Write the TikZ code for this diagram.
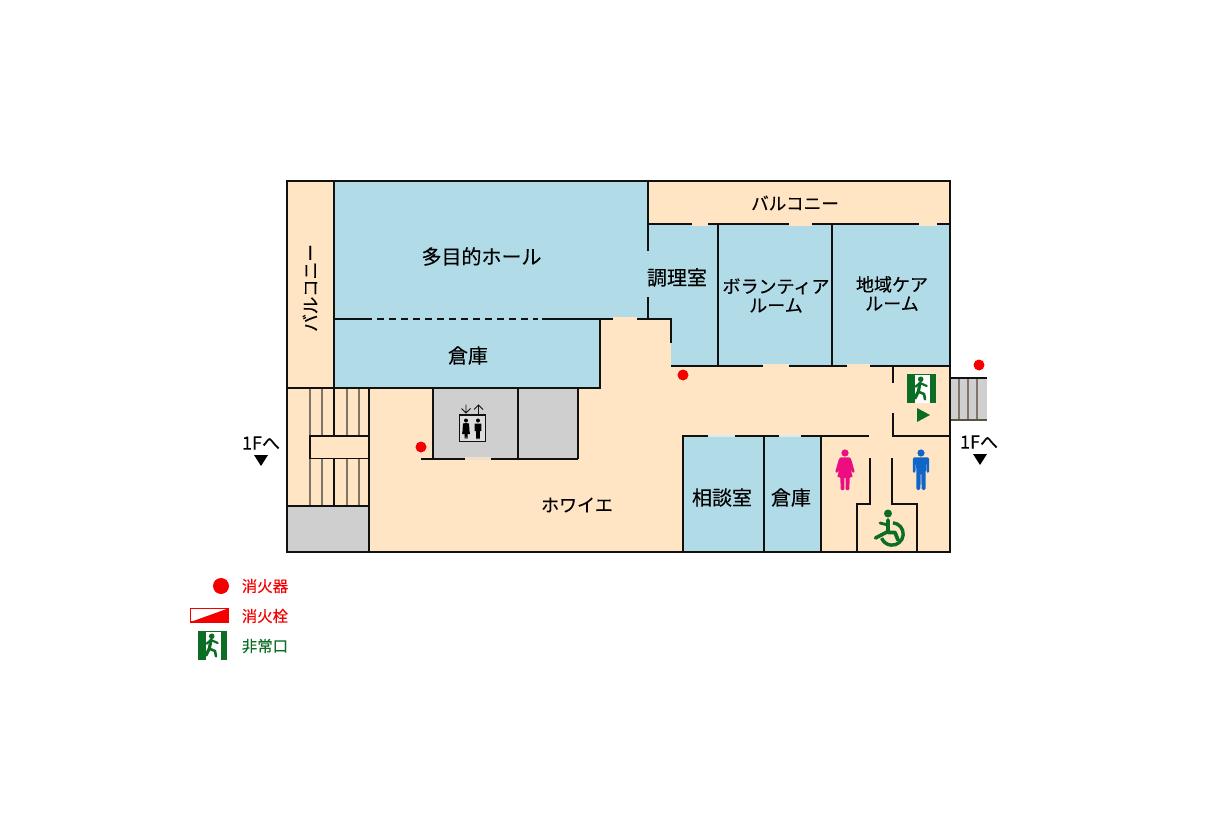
\documentclass[tikz,border=0pt]{standalone}
\usepackage{fontspec}
\setmainfont[FakeBold=0.25]{Noto Sans CJK JP}
\definecolor{peach}{HTML}{FFE5C4}
\definecolor{roomblue}{HTML}{B1DBE7}
\definecolor{floorgray}{HTML}{CFCFCF}
\definecolor{exitgreen}{HTML}{0B6E24}
\definecolor{wcpink}{HTML}{EC0E80}
\definecolor{wcblue}{HTML}{0F66C8}
\definecolor{firered}{HTML}{F40000}
\definecolor{wall}{HTML}{111111}
\definecolor{stepline}{HTML}{7F7566}
\tikzset{
  wallline/.style={draw=wall,line width=1.9pt},
  thinwall/.style={draw=wall,line width=1.6pt},
  stepsline/.style={draw=stepline,line width=1.2pt},
  roomlabel/.style={inner sep=0pt,font=\fontsize{18}{19}\selectfont,text=black},
  biglabel/.style={inner sep=0pt,font=\fontsize{20}{22}\selectfont,text=black},
  legendlabel/.style={inner sep=0pt,font=\fontsize{15.4}{17}\selectfont},
  firedot/.style={fill=firered,draw=none},
  exiticon/.pic={
    \fill[white] (0,0) rectangle (29,29);
    \fill[exitgreen] (0,0) rectangle (8,29);
    \fill[exitgreen] (22.5,0) rectangle (29,29);
    \fill[exitgreen] (8,0) rectangle (22.5,1);
    \fill[exitgreen] (13.7,5.3) circle (2.8);
    \draw[exitgreen,line width=2.2pt,line cap=round,line join=round]
      (8.5,12.7) -- (13,9) -- (19.7,12);
    \draw[exitgreen,line width=3.2pt,line cap=round,line join=round]
      (13,9) -- (11.3,17.7) -- (8,24.3);
    \draw[exitgreen,line width=2.6pt,line cap=round,line join=round]
      (11.3,17.7) -- (17,20) -- (18,25.3);
  },
  manicon/.pic={
    \fill (0,-17) circle (3.6);
    \fill[rounded corners=1.5pt] (-8.2,-12.7) -- (8.2,-12.7) -- (8.2,3) -- (5.6,3) -- (5.2,-7) -- (4.8,-7) -- (4.6,20) -- (0.6,20) -- (0.3,3) -- (-0.3,3) -- (-0.6,20) -- (-4.6,20) -- (-4.8,-7) -- (-5.2,-7) -- (-5.6,3) -- (-8.2,3) -- cycle;
  },
  womanicon/.pic={
    \fill (0,-17) circle (3.6);
    \fill[rounded corners=1pt] (-5,-12.7) -- (5,-12.7) -- (6.4,-10) -- (9.8,2) -- (7.4,3) -- (5,-3) -- (7.8,7.2) -- (4.6,7.2) -- (4.4,20) -- (0.7,20) -- (0.5,7.2) -- (-0.5,7.2) -- (-0.7,20) -- (-4.4,20) -- (-4.6,7.2) -- (-7.8,7.2) -- (-5,-3) -- (-7.4,3) -- (-9.8,2) -- (-6.4,-10) -- cycle;
  }
}
\begin{document}
\begin{tikzpicture}[x=1pt,y=-1pt]
\useasboundingbox (0,0) rectangle (1216,840);
% floor
\fill[peach] (287,181) rectangle (950,552);
% blue rooms
\fill[roomblue] (334,181) -- (648,181) -- (648,224) -- (950,224) -- (950,366) -- (671,366) -- (671,319) -- (600,319) -- (600,388) -- (334,388) -- cycle;
\fill[roomblue] (683,436) rectangle (821,552);
% gray rooms
\fill[floorgray] (433,388) rectangle (578,459);
\fill[floorgray] (287,506) rectangle (369,552);
\fill[floorgray] (950,378) rectangle (987,420);
% door gaps
\fill[peach] (692,224) rectangle (708,226);
\fill[peach] (789,224) rectangle (812,226);
\fill[peach] (919,224) rectangle (937,226);
\fill[peach] (763,364) rectangle (789,366);
\fill[peach] (847,364) rectangle (870,366);
\fill[peach] (613,317) rectangle (637,320);
\fill[roomblue!50!white] (708,435) rectangle (735,437);
\fill[roomblue!50!white] (779,435) rectangle (801,437);
\fill[peach!70!floorgray] (465,457) rectangle (491,460);
% left stairs
\foreach \sx in {310,322,347,359}{
  \draw[stepsline] (\sx,388) -- (\sx,436);
  \draw[stepsline] (\sx,459) -- (\sx,506);
}
\draw[thinwall,line width=1.1pt] (334,388) -- (334,436);
\draw[thinwall,line width=1.1pt] (334,459) -- (334,506);
\draw[wallline] (310,436) rectangle (369,458.5);
\draw[wallline] (287,506) -- (369,506);
% right stairs
\foreach \sx in {959,968,977}{\draw[stepsline] (\sx,378) -- (\sx,420);}
\draw[wallline] (950,378) -- (987,378);
\draw[thinwall,line width=1.4pt,draw=stepline!70!black] (950,420) -- (987,420);
% outer and long walls
\draw[wallline] (287,181) rectangle (950,552);
\draw[wallline] (334,181) -- (334,388);
\draw[wallline] (287,388) -- (600,388) -- (600,319);
\draw[wallline] (369,388) -- (369,552);
% hall
\draw[wallline] (648,181) -- (648,251);
\draw[wallline] (648,297) -- (648,319);
\draw[wallline] (334,319) -- (372,319);
\draw[wallline,dash pattern=on 7pt off 5pt] (377,319) -- (538,319);
\draw[wallline] (542,319) -- (613,319);
\draw[wallline] (637,319) -- (671,319) -- (671,343);
% north corridor wall
\draw[wallline] (648,224) -- (692,224);
\draw[wallline] (708,224) -- (789,224);
\draw[wallline] (812,224) -- (919,224);
\draw[wallline] (937,224) -- (950,224);
\draw[wallline] (718,224) -- (718,366);
\draw[wallline] (832,224) -- (832,366);
\draw[wallline] (671,366) -- (763,366);
\draw[wallline] (789,366) -- (847,366);
\draw[wallline] (870,366) -- (950,366);
% exit vestibule
\draw[wallline] (893,366) -- (893,383);
\draw[wallline] (893,413) -- (893,436) -- (950,436);
% south rooms
\draw[wallline] (708,436) -- (683,436) -- (683,552);
\draw[wallline] (735,436) -- (779,436);
\draw[wallline] (801,436) -- (869,436);
\draw[wallline] (764,436) -- (764,552);
\draw[wallline] (821,436) -- (821,552);
% toilets
\draw[wallline] (870,458) -- (870,504) -- (857,504) -- (857,552);
\draw[wallline] (892,458) -- (892,504) -- (917,504) -- (917,552);
% elevators
\draw[wallline] (433,388) -- (433,459);
\draw[wallline] (518,388) -- (518,459);
\draw[wallline] (578,388) -- (578,459);
\draw[wallline] (421,459) -- (465,459);
\draw[wallline] (491,459) -- (578,459);
% elevator icon
\draw[fill=floorgray!70!white,draw=wall,line width=1.2pt] (459.5,415) rectangle (485.5,441.5);
\fill[black] (466,420.5) circle (2);
\fill[black] (466,423) -- (469,423.5) -- (469.5,431) -- (470,434) -- (467.5,434) -- (467.5,438.5) -- (466.5,438.5) -- (466,435) -- (465.5,438.5) -- (464.5,438.5) -- (464.5,434) -- (462,434) -- (462.5,431) -- (463,423.5) -- cycle;
\fill[black] (478,420.5) circle (2);
\fill[black] (474.7,423.5) -- (481.3,423.5) -- (481.3,431) -- (480,431) -- (479.7,439) -- (478.3,439) -- (478,433) -- (477.7,439) -- (476.3,439) -- (476,431) -- (474.7,431) -- cycle;
\draw[draw=wall,line width=0.9pt] (466,404.5) -- (466,413) (461.5,408.5) -- (466,413) -- (470.5,408.5);
\draw[draw=wall,line width=0.9pt] (478.5,414) -- (478.5,405) (474,409.5) -- (478.5,405) -- (483,409.5);
% fire extinguishers
\fill[firedot] (421,447) circle (5.5);
\fill[firedot] (683,375) circle (5.5);
\fill[firedot] (979,365) circle (5.5);
% exit sign and arrow
\pic at (907,374) {exiticon};
\fill[exitgreen] (917,408) -- (917,422) -- (930,415) -- cycle;
% floor-change triangles
\fill[black] (254,455) -- (268,455) -- (261,466) -- cycle;
\fill[black] (973,454) -- (987,454) -- (980,465) -- cycle;
% toilet icons
\pic[color=wcpink,fill=wcpink] at (845,470) {womanicon};
\pic[color=wcblue,fill=wcblue] at (921,470) {manicon};
% wheelchair
\fill[exitgreen] (888,513.5) circle (4);
\draw[exitgreen,line width=3.4pt] (893,522.8) arc[start angle=-85,end angle=158,radius=11.2];
\draw[exitgreen,line width=3.8pt,line cap=round,line join=round] (888,520) -- (888,532.5) -- (895,532.5) -- (898,540);
\draw[exitgreen,line width=3.6pt,line cap=round,line join=round] (887,532) -- (875.5,538);
\draw[exitgreen,line width=2.8pt,line cap=round,line join=round] (880,523) -- (888,525);
% labels
\node[biglabel] (hall) at (481.5,256.5) {多目的ホール};
\node[biglabel] (store1) at (468,355.5) {倉庫};
\node[biglabel] (cook) at (677,277.5) {調理室};
\node[roomlabel,align=center] (vol) at (776,295.5) {ボランティア\\ルーム};
\node[roomlabel,align=center] (care) at (892,293.5) {地域ケア\\ルーム};
\node[roomlabel,font=\fontsize{17.6}{19}\selectfont] (balc1) at (795,203) {バルコニー};
\node[roomlabel,font=\fontsize{17.6}{19}\selectfont,rotate=90] (balc2) at (310,288) {バルコニー};
\node[roomlabel] (foyer) at (577,505) {ホワイエ};
\node[biglabel] (consult) at (722,497.5) {相談室};
\node[biglabel] (store2) at (791,497.5) {倉庫};
\node[roomlabel] (down1) at (261,443) {1Fへ};
\node[roomlabel] (down2) at (979,442) {1Fへ};
% legend
\fill[firedot] (221,586) circle (8);
\draw[firered,fill=white,line width=1.2pt] (190.5,608.5) rectangle (228,622);
\fill[firered] (190.5,622) -- (228,608.5) -- (228,622) -- cycle;
\pic at (198,631) {exiticon};
\node[legendlabel,text=firered] (l1) at (265,586) {消火器};
\node[legendlabel,text=firered] (l2) at (265,616) {消火栓};
\node[legendlabel,text=exitgreen] (l3) at (265,646) {非常口};
\end{tikzpicture}
\end{document}
